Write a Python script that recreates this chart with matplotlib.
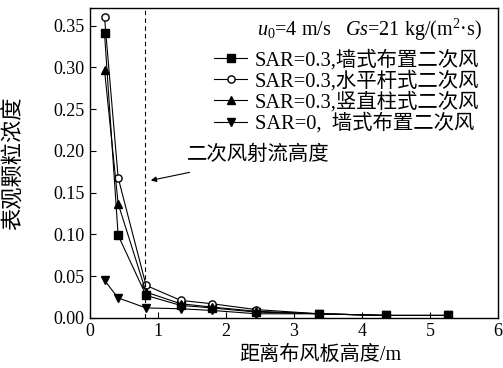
#!usr/bin/env python3

# 表观颗粒浓度 vs 距离布风板高度

import matplotlib
matplotlib.use("Agg")
import matplotlib.pyplot as plt

plt.rcParams['font.family'] = ['Liberation Serif', 'Noto Sans CJK SC']
plt.rcParams['mathtext.fontset'] = 'custom'
plt.rcParams['mathtext.rm'] = 'Liberation Serif'
plt.rcParams['mathtext.it'] = 'Liberation Serif:italic'

# heights (m)
x = [0.22, 0.42, 0.83, 1.34, 1.80, 2.45, 3.37, 4.35, 5.26]

wall = [0.341, 0.099, 0.027, 0.015, 0.012, 0.007, 0.005, 0.003, 0.003]
rod = [0.360, 0.168, 0.039, 0.021, 0.017, 0.010, 0.005, 0.003, 0.003]
column = [0.297, 0.137, 0.031, 0.017, 0.013, 0.008, 0.005, 0.003, 0.003]
no_sa = [0.045, 0.024, 0.012, 0.011, 0.009, 0.005, 0.005, 0.003, 0.003]

labels = ["SAR=0.3,墙式布置二次风", "SAR=0.3,水平杆式二次风",
          "SAR=0.3,竖直柱式二次风", "SAR=0,  墙式布置二次风"]

jet_height = 0.82


def main():
	fig = plt.figure(figsize=(5.03, 3.68), dpi=100)
	ax = fig.add_axes([0.178, 0.136, 0.812, 0.842])

	kw = dict(color="k", lw=0.8, ms=5.2)
	ax.plot(x, wall, marker="s", mfc="k", label=labels[0], **kw)
	ax.plot(x, rod, marker="o", mfc="w", label=labels[1], **kw)
	ax.plot(x, column, marker="^", mfc="k", label=labels[2], **kw)
	ax.plot(x, no_sa, marker="v", mfc="k", label=labels[3], **kw)

	ax.axvline(jet_height, color="k", lw=0.8, ls=(0, (4, 3)))

	ax.annotate("", xy=(0.86, 0.164), xytext=(1.51, 0.175),
		arrowprops=dict(arrowstyle="-|>", color="k", lw=0.8, mutation_scale=8))
	ax.text(1.43, 0.195, "二次风射流高度", fontsize=14.7, ha="left", va="center")

	ax.text(0.961, 0.929, r"$u_0$=4 m/s   $Gs$=21 kg/(m$^2$·s)", fontsize=14.5,
		ha="right", va="center", transform=ax.transAxes)

	leg = ax.legend(loc="upper right", bbox_to_anchor=(0.975, 0.892), frameon=False,
		fontsize=14.7, handlelength=1.6, handletextpad=0.4, labelspacing=0.02,
		borderaxespad=0.0)

	ax.set_xlim(0, 6)
	ax.set_ylim(0, 0.371)
	ax.set_xticks([0, 1, 2, 3, 4, 5, 6])
	ax.set_yticks([0, 0.05, 0.10, 0.15, 0.20, 0.25, 0.30, 0.35])
	ax.set_yticklabels(["0.00", "0.05", "0.10", "0.15", "0.20", "0.25", "0.30", "0.35"])
	ax.tick_params(direction="in", labelsize=13, length=4, width=0.8)
	for s in ax.spines.values():
		s.set_linewidth(1.0)

	ax.set_xlabel("距离布风板高度/m", fontsize=14.5)
	ax.xaxis.set_label_coords(0.564, -0.088)
	ax.set_ylabel("表观颗粒浓度", fontsize=16)
	ax.yaxis.set_label_coords(-0.158, 0.5)

	fig.savefig("out.png", dpi=100)


if __name__ == "__main__":
	main()
